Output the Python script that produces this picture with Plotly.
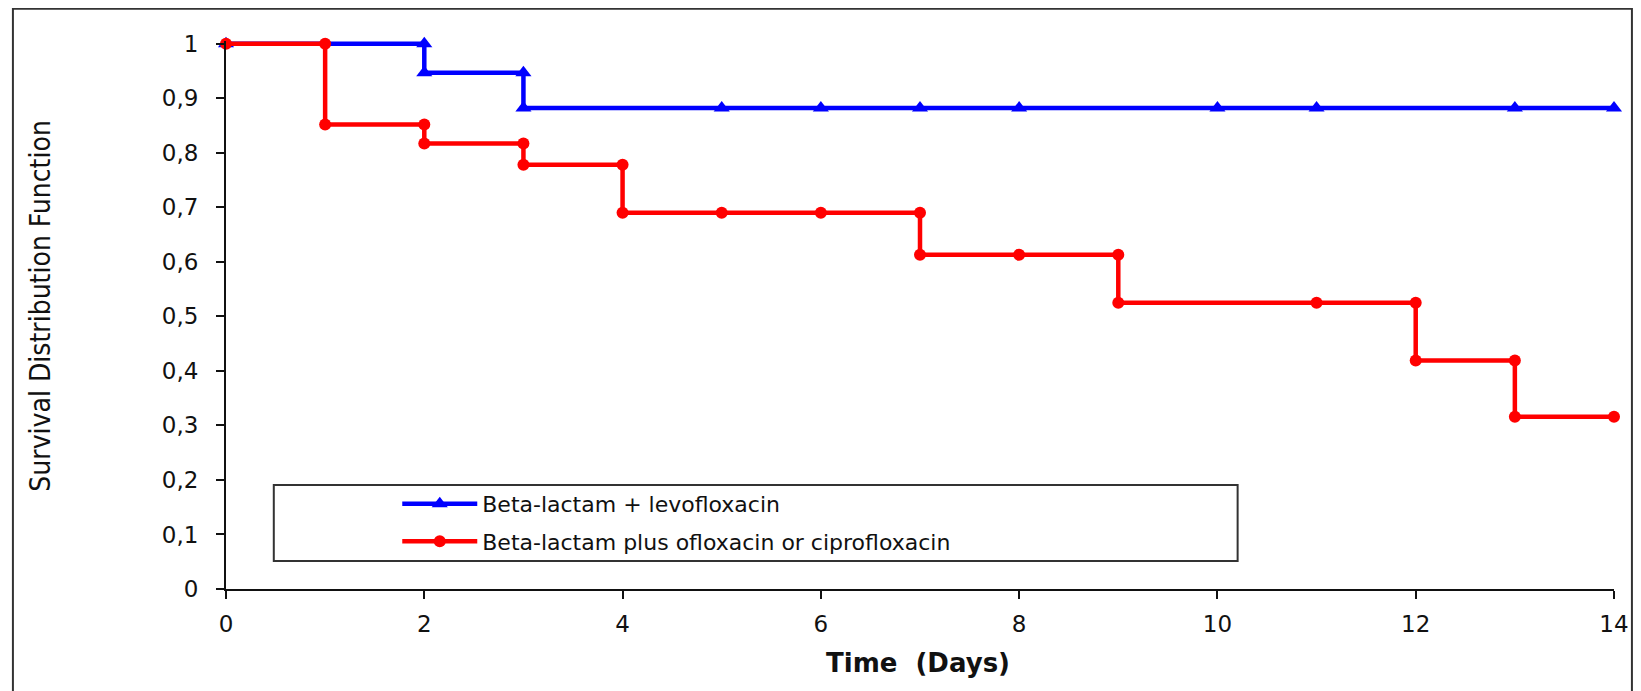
import plotly.graph_objects as go

# ---- data ----
levo_x = [0, 2, 2, 3, 3, 5, 6, 7, 8, 10, 11, 13, 14]
levo_y = [1, 1, 0.947, 0.947, 0.882, 0.882, 0.882, 0.882, 0.882, 0.882, 0.882, 0.882, 0.882]

oflo_x = [0, 1, 1, 2, 2, 3, 3, 4, 4, 5, 6, 7, 7, 8, 9, 9, 11, 12, 12, 13, 13, 14]
oflo_y = [1, 1, 0.852, 0.852, 0.817, 0.817, 0.778, 0.778, 0.69, 0.69, 0.69, 0.69,
          0.613, 0.613, 0.613, 0.525, 0.525, 0.525, 0.419, 0.419, 0.316, 0.316]

names = ["Beta-lactam + levofloxacin", "Beta-lactam plus ofloxacin or ciprofloxacin"]
x_ticks = [0, 2, 4, 6, 8, 10, 12, 14]
y_ticks = [0, 0.1, 0.2, 0.3, 0.4, 0.5, 0.6, 0.7, 0.8, 0.9, 1]
x_title = "Time  (Days)"
y_title = "Survival Distribution Function"

BLUE = "#0000FF"
RED = "#FF0000"
TICKFONT = dict(family="DejaVu Sans, Liberation Sans, Arial", size=23, color="#111111")

fig = go.Figure()
fig.add_trace(go.Scatter(
    x=levo_x, y=levo_y, mode="lines+markers", name=names[0], legendgroup="a",
    line=dict(color=BLUE, width=4.5, shape="linear"),
    marker=dict(symbol="triangle-up", size=14, color=BLUE),
    cliponaxis=False,
))
fig.add_trace(go.Scatter(
    x=oflo_x, y=oflo_y, mode="lines+markers", name=names[1], legendgroup="b",
    line=dict(color=RED, width=4.5, shape="linear"),
    marker=dict(symbol="circle", size=12, color=RED),
    cliponaxis=False,
))

# the page body adds an 8px offset; work in reference-pixel coordinates
OFF = 8
W, H = 1641 - OFF, 691 - OFF
x0_ref, x1_ref = 226, 1620        # x = 0 and x = 14
y0_ref, y1_ref = 589, 44          # y = 0 and y = 1
YMAX = 1.005
unit = (y0_ref - y1_ref)
top_ref = y0_ref - unit * YMAX

L = x0_ref - OFF
R = (1641 - x1_ref)
T = top_ref - OFF
B = 691 - y0_ref

def px_to_paper_x(px):
    return (px - x0_ref) / (x1_ref - x0_ref)

def px_to_paper_y(py):
    return (y0_ref - py) / (y0_ref - top_ref)

shapes = [
    # outer frame
    dict(type="rect", xref="paper", yref="paper",
         x0=px_to_paper_x(12), x1=px_to_paper_x(1638),
         y0=px_to_paper_y(9), y1=px_to_paper_y(720),
         line=dict(color="#333333", width=2), fillcolor="rgba(0,0,0,0)", layer="below"),
    # legend box
    dict(type="rect", xref="paper", yref="paper",
         x0=px_to_paper_x(274), x1=px_to_paper_x(1242),
         y0=px_to_paper_y(485), y1=px_to_paper_y(561),
         line=dict(color="#333333", width=2), fillcolor="rgba(0,0,0,0)", layer="below"),
]

annotations = [
    dict(text=y_title, xref="paper", yref="paper",
         x=px_to_paper_x(40), y=px_to_paper_y(306), textangle=-90,
         xanchor="center", yanchor="middle", showarrow=False,
         font=dict(family="Liberation Sans Narrow, Arial Narrow, DejaVu Sans Condensed, Liberation Sans",
                   size=28, color="#111111")),
    dict(text="<b>" + x_title + "</b>", xref="paper", yref="paper",
         x=px_to_paper_x(921), y=px_to_paper_y(663),
         xanchor="center", yanchor="middle", showarrow=False,
         font=dict(family="DejaVu Sans, Liberation Sans, Arial", size=26, color="#111111")),
]

fig.update_layout(
    width=W, height=H,
    margin=dict(l=L, r=R, t=T, b=B, pad=0),
    paper_bgcolor="white", plot_bgcolor="white",
    separators=",.",
    showlegend=True,
    legend=dict(x=px_to_paper_x(398), y=px_to_paper_y(483), xanchor="left", yanchor="top",
                bgcolor="rgba(0,0,0,0)", borderwidth=0, itemwidth=75,
                font=dict(family="DejaVu Sans, Liberation Sans, Arial", size=22, color="#111111"),
                tracegroupgap=6),
    shapes=shapes,
    annotations=annotations,
    xaxis=dict(range=[0, 14], tickvals=x_ticks, showgrid=False, zeroline=False,
               showline=True, linecolor="#111111", linewidth=2,
               ticks="outside", ticklen=8, tickwidth=2, tickcolor="#111111",
               tickfont=TICKFONT, ticklabelstandoff=5),
    yaxis=dict(range=[0, YMAX], tickvals=y_ticks, showgrid=False, zeroline=False,
               showline=True, linecolor="#111111", linewidth=2,
               ticks="outside", ticklen=8, tickwidth=2, tickcolor="#111111",
               tickfont=TICKFONT, ticklabelstandoff=13),
)

fig.write_html("out.html")
